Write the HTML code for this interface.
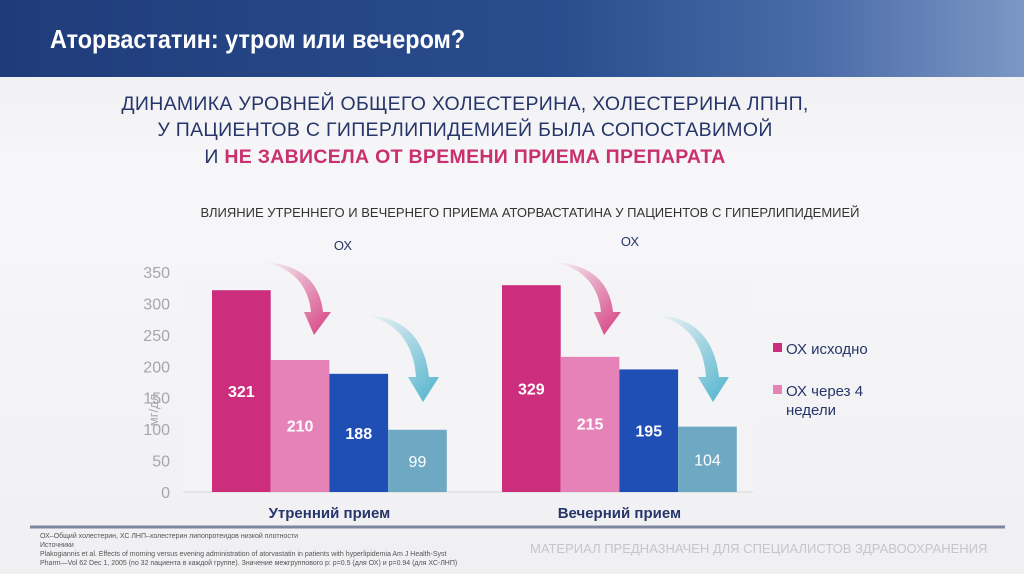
<!DOCTYPE html>
<html><head><meta charset="utf-8"><style>
body{margin:0;width:1024px;height:574px;overflow:hidden;font-family:"Liberation Sans",sans-serif;background:linear-gradient(180deg,#ececee 0%,#f7f7f9 30%,#f0f0f3 100%);position:relative}
.hdr{position:absolute;left:0;top:0;width:1024px;height:77px;background:linear-gradient(90deg,#1f3c7a 0%,#2a4d8e 55%,#4a6ca8 80%,#7c97c4 100%)}
.t{position:absolute;color:#fff;font-weight:bold;font-size:26px;left:50px;top:24px;transform:scaleX(0.9);transform-origin:left}
.sub{position:absolute;left:0;width:930px;text-align:center;font-size:19.5px;color:#27366a;letter-spacing:0.3px}
</style></head><body>
<div class="hdr"></div>
<div class="t">Аторвастатин: утром или вечером?</div>
<div class="sub" style="top:93px">ДИНАМИКА УРОВНЕЙ ОБЩЕГО ХОЛЕСТЕРИНА, ХОЛЕСТЕРИНА ЛПНП,</div>
<div class="sub" style="top:119px">У ПАЦИЕНТОВ С ГИПЕРЛИПИДЕМИЕЙ БЫЛА СОПОСТАВИМОЙ</div>
<div class="sub" style="top:146px;font-weight:bold"><span style="font-weight:normal">И </span><span style="color:#c8306e">НЕ ЗАВИСЕЛА ОТ ВРЕМЕНИ ПРИЕМА ПРЕПАРАТА</span></div>
<div style="position:absolute;left:0;width:1060px;text-align:center;top:205px;font-size:13px;color:#333">ВЛИЯНИЕ УТРЕННЕГО И ВЕЧЕРНЕГО ПРИЕМА АТОРВАСТАТИНА У ПАЦИЕНТОВ С ГИПЕРЛИПИДЕМИЕЙ</div>
<svg id="c" width="1024" height="574" style="position:absolute;left:0;top:0">
<defs>
<linearGradient id="gp" x1="0" y1="0" x2="1" y2="1"><stop offset="0" stop-color="#d63c80" stop-opacity="0"/><stop offset="1" stop-color="#d63c80"/></linearGradient>
<linearGradient id="gt" x1="0" y1="0" x2="1" y2="1"><stop offset="0" stop-color="#4fb3cc" stop-opacity="0"/><stop offset="1" stop-color="#4fb3cc"/></linearGradient>
</defs>
<rect x="183" y="280" width="570" height="212" fill="#f4f4f6"/>
<line x1="30" y1="527" x2="1005" y2="527" stroke="#7d879f" stroke-width="3"/>
</svg>
<div style="position:absolute;left:40px;top:532px;font-size:7px;color:#555;line-height:9px">ОХ–Общий холестерин, ХС ЛНП–холестерин липопротеидов низкой плотности<br>Источники<br>Plakogiannis et al. Effects of morning versus evening administration of atorvastatin in patients with hyperlipidemia Am J Health-Syst<br>Pharm—Vol 62 Dec 1, 2005 (по 32 пациента в каждой группе). Значение межгруппового р: р=0.5 (для ОХ) и р=0.94 (для ХС-ЛНП)</div>
<div style="position:absolute;left:530px;top:541px;font-size:13px;color:#c4c6cc">МАТЕРИАЛ ПРЕДНАЗНАЧЕН ДЛЯ СПЕЦИАЛИСТОВ ЗДРАВООХРАНЕНИЯ</div>
<script>
const groups=["Утренний прием","Вечерний прием"];
const baseline=[321,329];
const after4w=[210,215];
const seriesC=[188,195];
const seriesD=[99,104];
const ticks=[0,50,100,150,200,250,300,350];
const legendLabels=["ОХ исходно","ОХ через 4","недели"];
const NS="http://www.w3.org/2000/svg";
const svg=document.getElementById('c');
const y=v=>492-v*0.6286;
const groupX=[212,502], bw=58.7;
function el(t,a,txt){const e=document.createElementNS(NS,t);for(const k in a)e.setAttribute(k,a[k]);if(txt!=null)e.textContent=txt;svg.appendChild(e);return e;}
ticks.forEach(t=>{const e=el('text',{x:170,y:y(t)+6,'text-anchor':'end','font-size':16,fill:'#a5a7ad'},t);

});
const ax=el('line',{x1:183,y1:492,x2:753,y2:492,stroke:'#d8d8dc'});


const yt=el('text',{x:0,y:0,'font-size':13,fill:'#a5a7ad','text-anchor':'middle',transform:'translate(158,410) rotate(-90)'},'мг/дл');


const series=[baseline,after4w,seriesC,seriesD];
const cols=['#cc2d7d','#e583b8','#1f4fb5','#6fa8c2'];
groups.forEach((g,gi)=>{
  series.forEach((s,si)=>{
    const x=groupX[gi]+si*bw, v=s[gi];
    const r=el('rect',{x:x,y:y(v),width:bw,height:492-y(v),fill:cols[si]});
    
    
    const ty=si==0?y(v)+(492-y(v))*0.5+6:(si==3?y(v)+(492-y(v))*0.55+3:y(v)+(492-y(v))*0.45+12);
    const t=el('text',{x:x+bw/2,y:ty,'text-anchor':'middle','font-size':16,'font-weight':si==3?'normal':'bold',fill:'#fff'},v);
    
    
  });
  const cx=groupX[gi]+2*bw;
  const gl=el('text',{x:cx,y:518,'text-anchor':'middle','font-size':15,'font-weight':'bold',fill:'#27366a'},g);
  
  
  const ox=el('text',{x:gi==0?343:630,y:gi==0?250:246,'text-anchor':'middle','font-size':13,fill:'#27366a'},'ОХ');
  
  
  const b=groupX[gi];
  const a1=el('path',{d:`M${b+53},${262} Q${b+95},${272} ${b+99},${312} L${b+92},${312} L${b+102},${335} L${b+119},${312} L${b+111},${312} Q${b+106},${266} ${b+53},${262}Z`,fill:'url(#gp)'});
  
  
  const a2=el('path',{d:`M${b+153},${315} Q${b+200},${325} ${b+204},${377} L${b+196},${377} L${b+211},${402} L${b+227},${377} L${b+217},${377} Q${b+210},${317} ${b+153},${315}Z`,fill:'url(#gt)'});
  
  
});
const l1=el('rect',{x:773,y:343,width:9,height:9,fill:cols[0]});


const lt1=el('text',{x:786,y:354,'font-size':15,fill:'#27366a'},legendLabels[0]);


const l2=el('rect',{x:773,y:385,width:9,height:9,fill:cols[1]});


const lt2=el('text',{x:786,y:396,'font-size':15,fill:'#27366a'},legendLabels[1]);


const lt3=el('text',{x:786,y:415,'font-size':15,fill:'#27366a'},legendLabels[2]);


</script>
</body></html>
